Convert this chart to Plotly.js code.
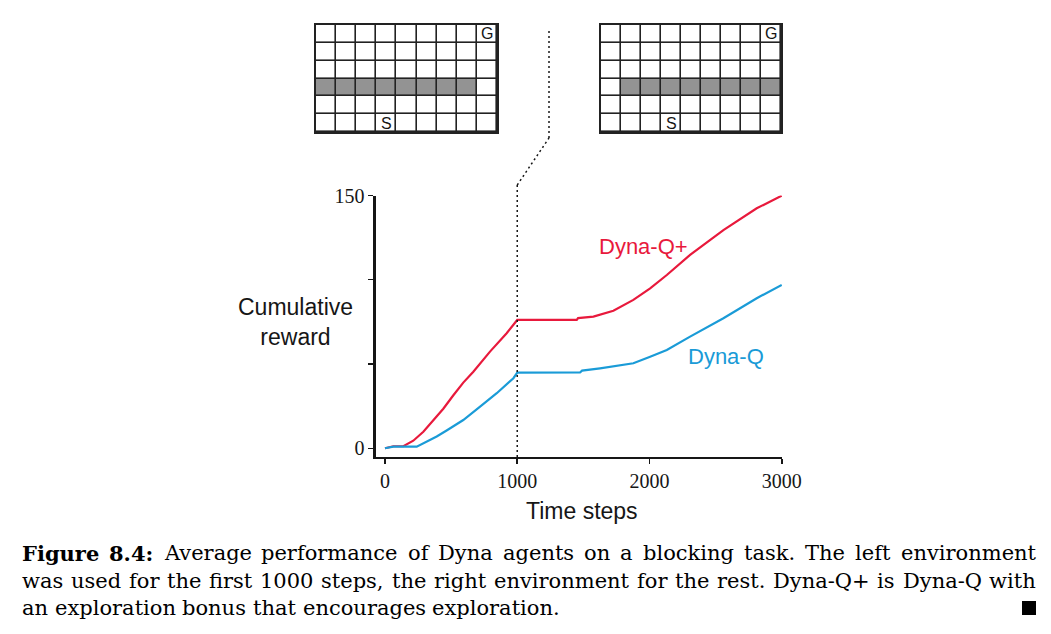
<!DOCTYPE html>
<html>
<head>
<meta charset="utf-8">
<script src="https://cdn.plot.ly/plotly-3.0.1.min.js"></script>
<style>
  html, body { margin: 0; padding: 0; background: #fff; }
  #chart { width: 1051px; height: 634px; }
</style>
</head>
<body>
<div id="chart"></div>
<script>
// ---------------- data ----------------
const dynaQPlusSteps  = [0, 63, 139, 214, 290, 366, 441, 517, 592, 668, 794, 920, 1000, 1450, 1460, 1576, 1727, 1878, 2005, 2131, 2307, 2559, 2811, 3000];
const dynaQPlusReward = [0, 1.2, 1.2, 4.5, 9.8, 16.8, 23.5, 31.5, 39, 45.5, 57.4, 68.3, 76.2, 76.2, 77.3, 78.2, 81.7, 88.1, 95, 102.9, 114.8, 129.6, 142.5, 150];

const dynaQSteps  = [0, 63, 240, 315, 391, 466, 592, 719, 845, 971, 1000, 1475, 1490, 1626, 1740, 1878, 2005, 2131, 2307, 2559, 2811, 3000];
const dynaQReward = [0, 1, 1, 3.8, 7.0, 10.6, 16.8, 24.7, 32.7, 41.6, 44.9, 45, 46.1, 47.5, 48.9, 50.5, 54.4, 58.4, 66.3, 77.2, 89.1, 97];

const xTickVals  = [0, 1000, 2000, 3000];
const xTickText  = ['0', '1000', '2000', '3000'];
const yTickVals  = [0, 50, 100, 150];
const yTickText  = ['0', '', '', '150'];

const switchStep = 1000;

// gridworlds ('#' = wall, S = start, G = goal), rows listed top to bottom
const gridLeft  = ['........G', '.........', '.........', '########.', '.........', '...S.....'];
const gridRight = ['........G', '.........', '.........', '.########', '.........', '...S.....'];

const seriesNames = ['Dyna-Q+', 'Dyna-Q'];
const captionLabel = 'Figure 8.4:';
const captionLines = [
  'Average performance of Dyna agents on a blocking task. The left environment',
  'was used for the first 1000 steps, the right environment for the rest. Dyna-Q+ is Dyna-Q with',
  'an exploration bonus that encourages exploration.'
];

// ---------------- styling ----------------
const W = 1051, H = 634;
const RED = '#e8193c', BLUE = '#1a9bd7', INK = '#161616', GRIDINK = '#222222';
const px = v => v / W;           // pixel x -> paper
const py = v => 1 - v / H;       // pixel y -> paper

function gridZ(g) { return g.map(row => row.split('').map(ch => ch === '#' ? 1 : 0)); }
function gridLabels(g, xa, ya) {
  const out = [];
  g.forEach((row, r) => row.split('').forEach((ch, c) => {
    if (ch === 'S' || ch === 'G') out.push({
      x: c, y: r, xref: xa, yref: ya, text: ch, showarrow: false,
      font: { family: 'Liberation Sans', size: 16, color: INK }
    });
  }));
  return out;
}

const nRows = gridLeft.length, nCols = gridLeft[0].length;

const traces = [
  {
    x: dynaQPlusSteps, y: dynaQPlusReward, type: 'scatter', mode: 'lines',
    name: seriesNames[0], line: { color: RED, width: 2.2 }, xaxis: 'x', yaxis: 'y'
  },
  {
    x: dynaQSteps, y: dynaQReward, type: 'scatter', mode: 'lines',
    name: seriesNames[1], line: { color: BLUE, width: 2.2 }, xaxis: 'x', yaxis: 'y'
  },
  {
    z: gridZ(gridLeft), type: 'heatmap', xaxis: 'x2', yaxis: 'y2',
    colorscale: [[0, '#ffffff'], [1, '#939393']], zmin: 0, zmax: 1,
    showscale: false, xgap: 1.6, ygap: 1.6, hoverinfo: 'skip'
  },
  {
    z: gridZ(gridRight), type: 'heatmap', xaxis: 'x3', yaxis: 'y3',
    colorscale: [[0, '#ffffff'], [1, '#939393']], zmin: 0, zmax: 1,
    showscale: false, xgap: 1.6, ygap: 1.6, hoverinfo: 'skip'
  }
];

const gridAxisCommon = {
  showline: true, mirror: true, linecolor: GRIDINK, linewidth: 1.6,
  showticklabels: false, ticks: '', showgrid: false, zeroline: false, fixedrange: true
};
const gridAxisX = (d, anchor) => Object.assign({ domain: d, range: [-0.5, nCols - 0.5], anchor: anchor }, gridAxisCommon);
const gridAxisY = (d, anchor) => Object.assign({ domain: d, range: [nRows - 0.5, -0.5], anchor: anchor }, gridAxisCommon);

const gridYDomain = [py(132), py(25)];
const mainYDomain = [py(457), py(195.5)];

const layout = {
  width: W, height: H,
  margin: { l: 0, r: 0, t: 0, b: 0, pad: 0 },
  paper_bgcolor: '#ffffff', plot_bgcolor: 'rgba(0,0,0,0)',
  showlegend: false,
  font: { family: 'Liberation Sans', color: INK },
  xaxis: {
    domain: [px(376), px(782)], range: [-68, 3002],
    tickvals: xTickVals, ticktext: xTickText,
    ticks: 'outside', ticklen: 5, tickwidth: 1.6, tickcolor: INK,
    showline: true, linewidth: 2.2, linecolor: INK,
    showgrid: false, zeroline: false,
    tickfont: { family: 'Liberation Serif', size: 20, color: INK },
    anchor: 'y'
  },
  yaxis: {
    domain: mainYDomain, range: [-5.17, 150.1],
    tickvals: yTickVals, ticktext: yTickText,
    ticks: 'outside', ticklen: 5, tickwidth: 1.2, tickcolor: INK,
    showline: true, linewidth: 2.6, linecolor: INK,
    showgrid: false, zeroline: false,
    tickfont: { family: 'Liberation Serif', size: 20, color: INK },
    anchor: 'x'
  },
  xaxis2: gridAxisX([px(316), px(497)], 'y2'),
  yaxis2: gridAxisY(gridYDomain, 'x2'),
  xaxis3: gridAxisX([px(601), px(781)], 'y3'),
  yaxis3: gridAxisY(gridYDomain, 'x3'),
  shapes: [
    // dark backgrounds behind grid cells -> inner grid lines
    { type: 'rect', xref: 'x2', yref: 'y2', x0: -0.5, x1: nCols - 0.5, y0: -0.5, y1: nRows - 0.5,
      fillcolor: GRIDINK, line: { width: 0 }, layer: 'below' },
    { type: 'rect', xref: 'x3', yref: 'y3', x0: -0.5, x1: nCols - 0.5, y0: -0.5, y1: nRows - 0.5,
      fillcolor: GRIDINK, line: { width: 0 }, layer: 'below' },
    // dotted marker of the environment switch
    { type: 'line', xref: 'x', yref: 'paper', x0: switchStep, x1: switchStep,
      y0: mainYDomain[0], y1: py(185), line: { color: INK, width: 1.5, dash: '2px,3px' } },
    // small black end-of-caption square
    { type: 'rect', xref: 'paper', yref: 'paper', x0: px(1022), x1: px(1036), y0: py(615), y1: py(601),
      fillcolor: '#000', line: { width: 0 } }
  ],
  annotations: [
    { xref: 'paper', yref: 'paper', x: px(295), y: py(322), text: 'Cumulative<br>reward',
      showarrow: false, font: { family: 'Liberation Sans', size: 23, color: INK }, xanchor: 'center', yanchor: 'middle' },
    { xref: 'paper', yref: 'paper', x: px(582), y: py(511), text: 'Time steps',
      showarrow: false, font: { family: 'Liberation Sans', size: 23, color: INK }, xanchor: 'center', yanchor: 'middle' },
    { xref: 'x', yref: 'y', x: 1951, y: 120.1, text: seriesNames[0], showarrow: false,
      font: { family: 'Liberation Sans', size: 22, color: RED } },
    { xref: 'x', yref: 'y', x: 2579, y: 54.8, text: seriesNames[1], showarrow: false,
      font: { family: 'Liberation Sans', size: 22, color: BLUE } }
  ].concat(gridLabels(gridLeft, 'x2', 'y2'), gridLabels(gridRight, 'x3', 'y3'))
};

// connector from the top of the switch line to the gap between the two grids
(function () {
  const xa = layout.xaxis;
  const xPaper = xa.domain[0] + (switchStep - xa.range[0]) / (xa.range[1] - xa.range[0]) * (xa.domain[1] - xa.domain[0]);
  const gapX = (layout.xaxis2.domain[1] + layout.xaxis3.domain[0]) / 2;
  const kink = py(138);
  layout.shapes.push(
    { type: 'line', xref: 'paper', yref: 'paper', x0: xPaper, y0: py(185), x1: gapX, y1: kink,
      line: { color: INK, width: 1.5, dash: '2px,3px' } },
    { type: 'line', xref: 'paper', yref: 'paper', x0: gapX, y0: kink, x1: gapX, y1: py(30),
      line: { color: INK, width: 1.5, dash: '2px,3px' } }
  );
})();

// caption, justified word by word like the typeset original
(function () {
  const size = 21, fam = '"DejaVu Serif"';
  const left = 22, right = 1036;
  const lineY = [553, 581, 608];
  const ctx = document.createElement('canvas').getContext('2d');
  const measure = (t, bold) => { ctx.font = (bold ? 'bold ' : '') + size + 'px ' + fam; return ctx.measureText(t).width; };

  const lines = captionLines.map((t, i) => {
    let words = t.split(' ').map(w => ({ t: w, b: false }));
    if (i === 0) words = captionLabel.split(' ').map(w => ({ t: w, b: true })).concat(words);
    return words;
  });

  lines.forEach((words, i) => {
    const widths = words.map(w => measure(w.t, w.b));
    const total = widths.reduce((a, b) => a + b, 0);
    const justify = i < lines.length - 1;
    const gap = justify ? (right - left - total) / (words.length - 1) : measure(' ', false);
    let x = left;
    words.forEach((w, k) => {
      layout.annotations.push({
        xref: 'paper', yref: 'paper', x: px(x), y: py(lineY[i]),
        text: w.b ? '<b>' + w.t + '</b>' : w.t,
        xanchor: 'left', yanchor: 'middle', showarrow: false, borderpad: 0, borderwidth: 0,
        font: { family: 'DejaVu Serif', size: size, color: '#000' }
      });
      x += widths[k] + gap;
    });
  });
})();

Plotly.newPlot('chart', traces, layout, { staticPlot: true, displayModeBar: false });
</script>
</body>
</html>
